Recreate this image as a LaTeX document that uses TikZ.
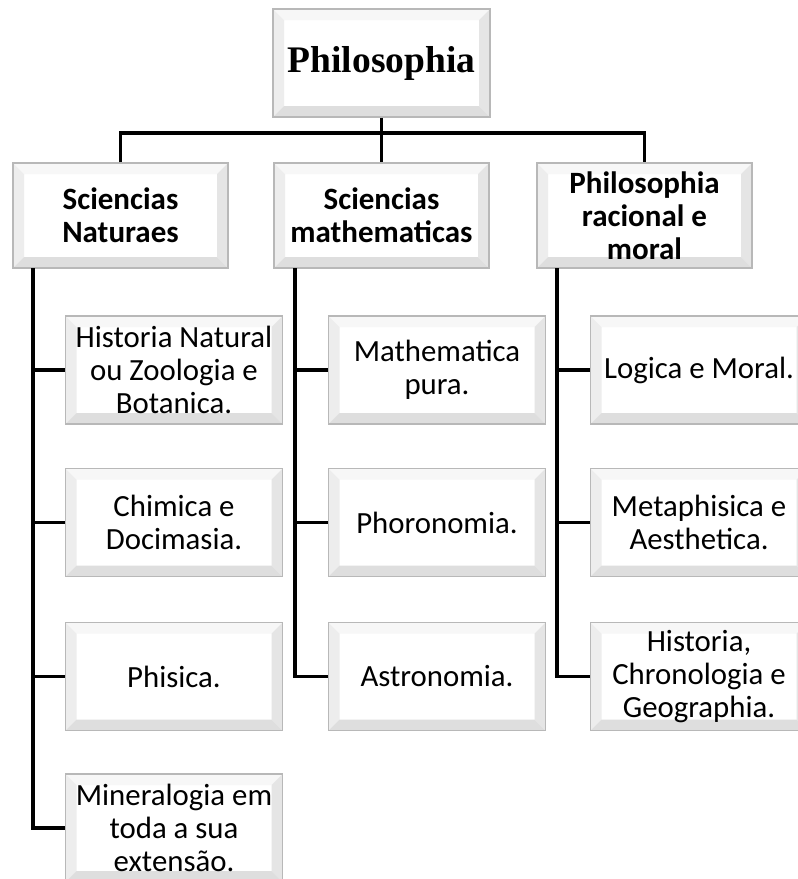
\documentclass[tikz,border=0pt]{standalone}
\usepackage{fontspec}
\setmainfont{Carlito}
\newfontfamily\titlefont{Liberation Serif}
\begin{document}
\begin{tikzpicture}[x=1pt,y=-1pt,
  bev/.style={rectangle, draw=black!28, line width=1.2pt, fill=white, align=center, inner sep=1pt,
    path picture={
      \coordinate (pnw) at (path picture bounding box.north west);
      \coordinate (pne) at (path picture bounding box.north east);
      \coordinate (psw) at (path picture bounding box.south west);
      \coordinate (pse) at (path picture bounding box.south east);
      \fill[black!3] (pnw) -- (pne) -- ([shift={(-11pt,-11pt)}]pne) -- ([shift={(11pt,-11pt)}]pnw) -- cycle;
      \fill[black!7] (pnw) -- (psw) -- ([shift={(11pt,11pt)}]psw) -- ([shift={(11pt,-11pt)}]pnw) -- cycle;
      \fill[black!10] (pne) -- (pse) -- ([shift={(-11pt,11pt)}]pse) -- ([shift={(-11pt,-11pt)}]pne) -- cycle;
      \fill[black!13] (psw) -- (pse) -- ([shift={(-11pt,11pt)}]pse) -- ([shift={(11pt,11pt)}]psw) -- cycle;
    }},
  topbox/.style={bev, minimum width=217pt, minimum height=108pt, font=\titlefont\bfseries\fontsize{37.5}{40}\selectfont},
  midbox/.style={bev, minimum width=215pt, minimum height=105pt, font=\bfseries\fontsize{31}{33}\selectfont},
  leafbox/.style={bev, minimum width=217pt, minimum height=108pt, font=\fontsize{30.8}{33}\selectfont},
  conn/.style={draw=black, line width=3.4pt}
]
\useasboundingbox (0,0) rectangle (798,879);
\fill[white] (0,0) rectangle (798,879);

\node[topbox] (top) at (381.5,63) {Philosophia};

\node[midbox] (sn) at (120.5,215.5) {Sciencias\\Naturaes};
\node[midbox] (sm) at (381.5,215.5) {Sciencias\\mathematicas};
\node[midbox] (pr) at (644.5,215.5) {Philosophia\\racional e\\moral};

\node[leafbox] (a1) at (174,370) {Historia Natural\\ou Zoologia e\\Botanica.};
\node[leafbox] (a2) at (174,522.5) {Chimica e\\Docimasia.};
\node[leafbox] (a3) at (174,676.5) {Phisica.};
\node[leafbox] (a4) at (174,828) {Mineralogia em\\toda a sua\\extensão.};

\node[leafbox] (b1) at (437,370) {Mathematica\\pura.};
\node[leafbox] (b2) at (437,522.5) {Phoronomia.};
\node[leafbox] (b3) at (437,676.5) {Astronomia.};

\node[leafbox] (c1) at (699,370) {Logica e Moral.};
\node[leafbox] (c2) at (699,522.5) {Metaphisica e\\Aesthetica.};
\node[leafbox] (c3) at (699,676.5) {Historia,\\Chronologia e\\Geographia.};

\coordinate (j) at (381.5,133);
\coordinate (sa) at (33,268);
\coordinate (sb) at (295,268);
\coordinate (sc) at (557,268);

\draw[conn] (top.south) -- (j);
\draw[conn] (sn.north) |- (j) -| (pr.north);
\draw[conn] (j) -- (sm.north);

\draw[conn] (sa) |- (a4.west);
\draw[conn] (a1.west -| sa) -- (a1.west);
\draw[conn] (a2.west -| sa) -- (a2.west);
\draw[conn] (a3.west -| sa) -- (a3.west);

\draw[conn] (sb) |- (b3.west);
\draw[conn] (b1.west -| sb) -- (b1.west);
\draw[conn] (b2.west -| sb) -- (b2.west);

\draw[conn] (sc) |- (c3.west);
\draw[conn] (c1.west -| sc) -- (c1.west);
\draw[conn] (c2.west -| sc) -- (c2.west);
\end{tikzpicture}
\end{document}
